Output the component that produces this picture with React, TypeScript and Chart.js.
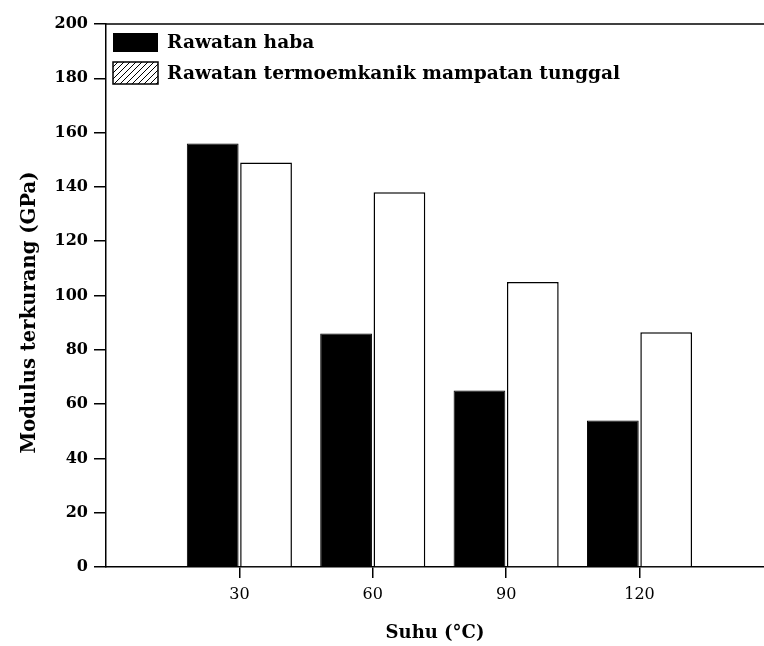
import React, { useEffect, useRef } from 'react';
import { Chart, registerables } from 'chart.js';
Chart.register(...registerables);

const temperatures = [30, 60, 90, 120];
const heatTreatment = [156, 86, 65, 54];
const thermoTreatment = [149, 138, 105, 86.5];
const seriesLabels = ['Rawatan haba', 'Rawatan termoemkanik mampatan tunggal'];
const yTitle = 'Modulus terkurang (GPa)';
const xTitle = 'Suhu (°C)';

const FONT = '"DejaVu Serif", "Liberation Serif", serif';

function makeHatch(): CanvasPattern | string {
  const c = document.createElement('canvas');
  c.width = 6;
  c.height = 6;
  const g = c.getContext('2d');
  if (!g) return '#fff';
  g.fillStyle = '#fff';
  g.fillRect(0, 0, 6, 6);
  g.strokeStyle = '#000';
  g.lineWidth = 1;
  g.beginPath();
  g.moveTo(0, 6);
  g.lineTo(6, 0);
  g.moveTo(-3, 3);
  g.lineTo(3, -3);
  g.moveTo(3, 9);
  g.lineTo(9, 3);
  g.stroke();
  const p = g.createPattern(c, 'repeat');
  return p || '#fff';
}

const decorations = {
  id: 'decorations',
  afterDraw(chart: any) {
    const ctx = chart.ctx as CanvasRenderingContext2D;
    const { left, top, right, bottom } = chart.chartArea;
    ctx.save();
    // top frame line
    ctx.strokeStyle = '#000';
    ctx.lineWidth = 1.5;
    ctx.beginPath();
    ctx.moveTo(left, top);
    ctx.lineTo(right, top);
    ctx.stroke();

    // legend inside plot
    const bx = left + 7;
    const bw = 45;
    ctx.fillStyle = '#000';
    ctx.fillRect(bx, top + 9, bw, 19);
    ctx.fillStyle = makeHatch() as any;
    ctx.fillRect(bx, top + 38, bw, 22);
    ctx.strokeStyle = '#000';
    ctx.lineWidth = 1.5;
    ctx.strokeRect(bx, top + 38, bw, 22);

    ctx.fillStyle = '#000';
    ctx.font = 'bold 18.6px ' + FONT;
    ctx.textBaseline = 'middle';
    ctx.textAlign = 'left';
    ctx.fillText(seriesLabels[0], left + 61, top + 19);
    ctx.fillText(seriesLabels[1], left + 61, top + 50);

    // axis titles
    ctx.font = 'bold 18px ' + FONT;
    ctx.textAlign = 'center';
    ctx.textBaseline = 'middle';
    ctx.fillText(xTitle, (left + right) / 2, bottom + 66);

    ctx.translate(30, (top + bottom) / 2 + 17);
    ctx.rotate(-Math.PI / 2);
    ctx.font = 'bold 19.6px ' + FONT;
    ctx.fillText(yTitle, 0, 0);
    ctx.restore();
  },
};

export default function App() {
  const ref = useRef<HTMLCanvasElement | null>(null);
  useEffect(() => {
    if (!ref.current) return;
    const chart = new Chart(ref.current, {
      type: 'bar',
      data: {
        datasets: [
          {
            label: seriesLabels[0],
            data: temperatures.map((t, i) => ({ x: t, y: heatTreatment[i] })),
            backgroundColor: '#000',
            borderColor: '#000',
            borderWidth: 1,
            categoryPercentage: 0.8,
            barPercentage: 0.97,
          },
          {
            label: seriesLabels[1],
            data: temperatures.map((t, i) => ({ x: t, y: thermoTreatment[i] })),
            backgroundColor: '#fff',
            borderColor: '#000',
            borderWidth: 1.5,
            categoryPercentage: 0.8,
            barPercentage: 0.97,
          },
        ],
      } as any,
      options: {
        animation: false,
        responsive: true,
        maintainAspectRatio: false,
        layout: { padding: { top: 24, right: 0, left: 0, bottom: 0 } },
        plugins: { legend: { display: false }, tooltip: { enabled: false } },
        scales: {
          x: {
            type: 'linear',
            offset: false,
            min: 0,
            max: 148,
            afterBuildTicks: (scale: any) => {
              scale.ticks = temperatures.map((v) => ({ value: v }));
            },
            afterFit: (scale: any) => {
              scale.height = 79;
            },
            grid: {
              offset: false,
              drawOnChartArea: false,
              drawTicks: true,
              tickLength: 11,
              color: '#000',
              lineWidth: 1.5,
            },
            border: { display: true, color: '#000', width: 1.5 },
            ticks: {
              color: '#000',
              font: { family: FONT, size: 16 },
              padding: 7,
              callback: (v: any) => String(v),
            },
            title: { display: false },
          },
          y: {
            type: 'linear',
            min: 0,
            max: 200,
            afterFit: (scale: any) => {
              scale.width = 106;
            },
            grid: {
              drawOnChartArea: false,
              drawTicks: true,
              tickLength: 12,
              color: '#000',
              lineWidth: 1.5,
            },
            border: { display: true, color: '#000', width: 1.5 },
            ticks: {
              stepSize: 20,
              color: '#000',
              font: { family: FONT, size: 16, weight: 'bold' },
              padding: 6,
            },
            title: { display: false },
          },
        },
      } as any,
      plugins: [decorations],
    });
    return () => chart.destroy();
  }, []);
  return (
    <div style={{ position: 'fixed', left: 0, top: 0, width: 764, height: 646, background: '#fff' }}>
      <canvas ref={ref} />
    </div>
  );
}
